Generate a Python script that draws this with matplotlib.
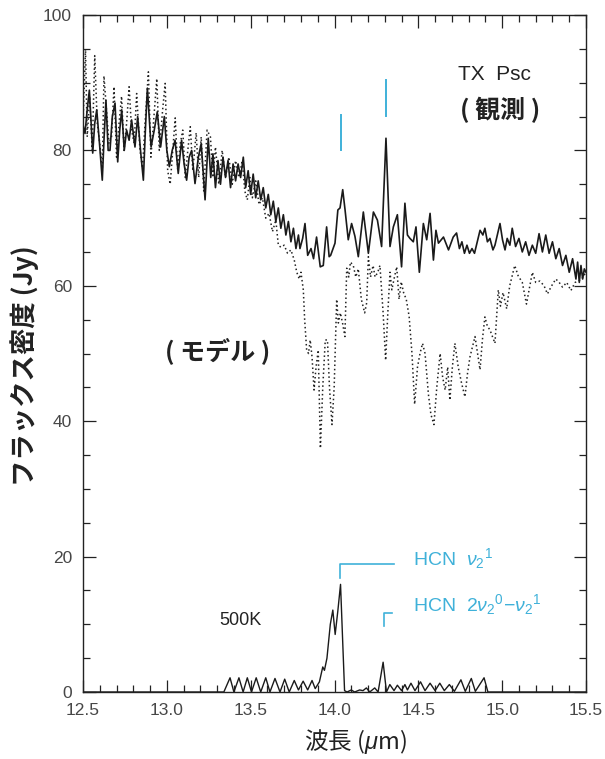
import matplotlib
matplotlib.use("Agg")
import matplotlib.pyplot as plt
from matplotlib.ticker import MultipleLocator

plt.rcParams['font.family'] = ['Liberation Sans', 'Noto Sans CJK JP', 'DejaVu Sans']
plt.rcParams['mathtext.fontset'] = 'custom'
plt.rcParams['mathtext.rm'] = 'Liberation Sans'
plt.rcParams['mathtext.it'] = 'Liberation Sans:italic'

# ---- data ----
wl_obs = [12.498, 12.512, 12.525, 12.538, 12.558, 12.570, 12.582, 12.600, 12.615, 12.626,
          12.637, 12.650, 12.661, 12.675, 12.691, 12.707, 12.719, 12.731, 12.746, 12.760,
          12.775, 12.790, 12.810, 12.826, 12.843, 12.860, 12.872, 12.884, 12.906, 12.925,
          12.943, 12.963, 12.985, 13.000, 13.015, 13.032, 13.049, 13.068, 13.088, 13.103,
          13.118, 13.133, 13.148, 13.168, 13.188, 13.205, 13.228, 13.247, 13.262, 13.275,
          13.290, 13.305, 13.320, 13.335, 13.350, 13.365, 13.380, 13.395, 13.410, 13.425,
          13.440, 13.456, 13.470, 13.485, 13.500, 13.515, 13.530, 13.545, 13.560, 13.575,
          13.590, 13.605, 13.620, 13.635, 13.650, 13.665, 13.680, 13.695, 13.710, 13.725,
          13.740, 13.755, 13.770, 13.785, 13.794, 13.810, 13.824, 13.840, 13.860, 13.875,
          13.893, 13.915, 13.933, 13.953, 13.968, 13.977, 14.003, 14.020, 14.033, 14.049,
          14.063, 14.082, 14.102, 14.122, 14.142, 14.172, 14.202, 14.232, 14.256, 14.281,
          14.307, 14.331, 14.351, 14.375, 14.400, 14.420, 14.435, 14.450, 14.470, 14.486,
          14.506, 14.530, 14.550, 14.570, 14.590, 14.605, 14.620, 14.650, 14.680, 14.708,
          14.728, 14.745, 14.760, 14.775, 14.790, 14.805, 14.820, 14.835, 14.868, 14.885,
          14.897, 14.912, 14.927, 14.945, 14.957, 14.987, 15.002, 15.017, 15.030, 15.046,
          15.060, 15.080, 15.100, 15.120, 15.140, 15.160, 15.180, 15.200, 15.220, 15.240,
          15.260, 15.280, 15.300, 15.320, 15.340, 15.360, 15.380, 15.400, 15.420, 15.440,
          15.450, 15.460, 15.470, 15.480, 15.490, 15.500]
flux_obs = [84.0, 82.5, 86.0, 88.9, 79.6, 84.0, 86.0, 80.5, 75.6, 82.0,
            87.4, 80.0, 80.0, 85.0, 87.0, 78.3, 83.0, 86.0, 80.0, 83.0,
            81.5, 84.5, 80.5, 85.0, 80.0, 75.6, 83.0, 89.2, 80.5, 83.0,
            85.7, 80.5, 85.0, 80.0, 77.6, 80.0, 81.5, 76.6, 81.5, 78.0,
            75.6, 79.0, 80.0, 75.1, 79.0, 81.0, 72.7, 81.8, 76.0, 79.5,
            74.5, 78.5, 75.0, 79.0, 76.0, 78.5, 74.5, 78.0, 75.5, 78.0,
            76.0, 79.0, 74.5, 77.0, 73.5, 76.5, 73.0, 75.5, 72.7, 74.5,
            71.5, 73.5, 70.5, 72.5, 69.5, 71.5, 68.5, 70.5, 67.5, 69.5,
            66.5, 68.5, 65.5, 67.5, 65.5, 67.0, 69.2, 64.5, 65.5, 64.0,
            67.2, 62.8, 63.0, 68.7, 64.3, 64.5, 66.3, 71.2, 71.5, 74.2,
            71.2, 66.8, 69.2, 67.3, 64.3, 70.9, 64.8, 70.9, 69.7, 65.8,
            81.8, 65.8, 68.7, 70.5, 62.8, 72.2, 67.5, 67.0, 66.5, 68.7,
            62.0, 69.2, 66.8, 70.7, 63.8, 68.2, 66.3, 67.2, 65.3, 67.2,
            67.8, 65.5, 66.5, 64.8, 66.0, 64.8, 65.5, 64.8, 68.2, 67.5,
            68.5, 66.5, 67.0, 65.3, 66.0, 69.2, 66.8, 65.3, 67.0, 66.0,
            68.5, 65.8, 67.0, 65.0, 66.5, 64.5, 66.0, 64.8, 67.7, 65.0,
            67.5, 64.8, 66.5, 64.0, 65.5, 63.0, 64.5, 62.0, 64.0, 61.0,
            63.5, 60.5, 63.0, 61.0, 62.5, 62.0]

wl_model = [12.500, 12.515, 12.525, 12.540, 12.555, 12.570, 12.585, 12.600, 12.615, 12.625,
            12.640, 12.655, 12.670, 12.685, 12.700, 12.715, 12.730, 12.745, 12.760, 12.775,
            12.790, 12.805, 12.820, 12.840, 12.855, 12.870, 12.890, 12.905, 12.920, 12.940,
            12.955, 12.975, 12.990, 13.005, 13.020, 13.035, 13.050, 13.065, 13.080, 13.095,
            13.110, 13.125, 13.140, 13.155, 13.175, 13.190, 13.205, 13.220, 13.240, 13.260,
            13.275, 13.290, 13.310, 13.330, 13.350, 13.370, 13.390, 13.410, 13.430, 13.450,
            13.465, 13.480, 13.495, 13.510, 13.530, 13.550, 13.570, 13.590, 13.610, 13.630,
            13.650, 13.665, 13.680, 13.700, 13.720, 13.740, 13.760, 13.775, 13.790, 13.800,
            13.814, 13.822, 13.834, 13.845, 13.855, 13.866, 13.878, 13.890, 13.903, 13.916,
            13.930, 13.945, 13.958, 13.970, 13.985, 13.998, 14.013, 14.023, 14.035, 14.048,
            14.062, 14.073, 14.085, 14.095, 14.112, 14.127, 14.142, 14.160, 14.180, 14.192,
            14.202, 14.215, 14.230, 14.242, 14.258, 14.271, 14.290, 14.305, 14.318, 14.331,
            14.342, 14.355, 14.371, 14.385, 14.398, 14.412, 14.428, 14.445, 14.462, 14.478,
            14.495, 14.510, 14.525, 14.540, 14.560, 14.575, 14.593, 14.610, 14.630, 14.645,
            14.660, 14.675, 14.688, 14.703, 14.718, 14.738, 14.758, 14.778, 14.793, 14.808,
            14.823, 14.838, 14.853, 14.868, 14.882, 14.897, 14.912, 14.927, 14.942, 14.957,
            14.977, 14.990, 15.005, 15.027, 15.045, 15.075, 15.095, 15.120, 15.145, 15.165,
            15.180, 15.200, 15.225, 15.250, 15.270, 15.295, 15.320, 15.340, 15.360, 15.385,
            15.410, 15.435, 15.455, 15.475, 15.490, 15.500]
flux_model = [84.0, 95.0, 82.0, 88.0, 80.0, 94.0, 84.0, 81.0, 77.0, 91.0,
              86.0, 81.0, 82.0, 89.4, 79.0, 84.0, 88.0, 80.0, 84.0, 89.4,
              83.0, 81.0, 88.4, 80.0, 77.4, 84.0, 91.6, 79.0, 84.0, 90.6,
              80.0, 86.0, 89.9, 77.0, 75.0, 80.0, 84.8, 77.0, 81.0, 83.0,
              76.0, 80.0, 83.5, 77.0, 82.6, 76.0, 82.0, 74.0, 83.0, 82.0,
              76.0, 80.5, 75.0, 80.0, 76.0, 79.0, 75.0, 78.5, 76.0, 78.5,
              74.0, 72.7, 76.0, 73.0, 75.5, 72.0, 73.0, 70.0, 70.7, 68.0,
              69.7, 66.0, 65.7, 66.0, 64.8, 65.3, 63.8, 62.0, 61.0, 62.0,
              59.4, 55.0, 50.5, 50.0, 52.0, 49.5, 44.6, 48.0, 50.5, 36.0,
              45.0, 52.0, 52.0, 45.0, 39.5, 45.0, 58.0, 54.5, 56.0, 54.5,
              52.5, 62.6, 61.3, 63.5, 63.0, 61.3, 62.5, 58.0, 56.0, 57.5,
              64.3, 61.3, 63.0, 61.3, 62.0, 63.0, 56.0, 49.0, 56.0, 62.0,
              59.4, 61.0, 62.8, 58.0, 60.6, 59.0, 58.0, 55.5, 50.0, 42.5,
              48.0, 50.0, 51.5, 50.0, 44.0, 41.0, 39.5, 45.0, 50.0, 46.5,
              44.6, 48.0, 43.1, 48.0, 51.5, 48.0, 45.6, 43.6, 47.0, 49.5,
              51.0, 52.5, 50.0, 47.6, 52.0, 55.4, 54.0, 53.5, 52.5, 51.5,
              59.4, 57.0, 59.0, 56.6, 60.0, 63.0, 61.5, 60.5, 57.3, 60.0,
              62.0, 60.5, 60.7, 60.0, 58.8, 60.0, 61.0, 60.5, 59.8, 60.5,
              59.3, 60.5, 60.7, 61.0, 61.7, 61.5]

wl_500k = [12.500, 13.340, 13.377, 13.400, 13.430, 13.455, 13.480, 13.505, 13.533, 13.560,
           13.590, 13.615, 13.645, 13.675, 13.703, 13.730, 13.760, 13.785, 13.813, 13.840,
           13.866, 13.885, 13.910, 13.930, 13.940, 13.955, 13.975, 13.990, 14.004, 14.020,
           14.036, 14.048, 14.060, 14.075, 14.100, 14.120, 14.150, 14.170, 14.190, 14.210,
           14.240, 14.260, 14.290, 14.310, 14.330, 14.355, 14.375, 14.400, 14.420, 14.435,
           14.456, 14.480, 14.513, 14.540, 14.570, 14.600, 14.628, 14.655, 14.685, 14.715,
           14.754, 14.780, 14.816, 14.840, 14.892, 14.915, 15.500]
flux_500k = [0.0, 0.0, 2.1, 0.0, 2.1, 0.0, 2.1, 0.0, 2.1, 0.0,
             2.1, 0.0, 2.0, 0.0, 1.9, 0.0, 1.7, 0.3, 1.6, 0.3,
             1.7, 0.5, 1.5, 3.7, 3.2, 5.0, 10.0, 12.1, 8.5, 12.0,
             15.9, 8.0, 0.2, 0.0, 0.3, 0.0, 0.3, 0.2, 0.6, 0.0,
             0.6, 0.0, 4.4, 0.0, 1.1, 0.2, 1.0, 0.2, 1.1, 0.3,
             1.3, 0.2, 1.5, 0.2, 1.3, 0.2, 1.3, 0.2, 1.1, 0.1,
             1.8, 0.1, 2.0, 0.1, 2.1, 0.0, 0.0]

x_ticks = [12.5, 13.0, 13.5, 14.0, 14.5, 15.0, 15.5]
y_ticks = [0, 20, 40, 60, 80, 100]

BLUE = '#3fb1d9'
GREY = '#474747'

fig = plt.figure(figsize=(6.05, 7.59), dpi=100)
ax = fig.add_axes([83/605, 67/759, 503/605, 677/759])

ax.plot(wl_model, flux_model, color='#222222', lw=1.1, linestyle=(0, (1, 1.8)))
ax.plot(wl_obs, flux_obs, color='#1a1a1a', lw=1.2)
ax.plot(wl_500k, flux_500k, color='#1a1a1a', lw=1.0)

ax.set_xlim(12.5, 15.5)
ax.set_ylim(0, 100)
ax.set_xticks(x_ticks)
ax.set_xticklabels([f"{v:.1f}" for v in x_ticks])
ax.set_yticks(y_ticks)
ax.xaxis.set_minor_locator(MultipleLocator(0.1))
ax.yaxis.set_minor_locator(MultipleLocator(5))
ax.tick_params(which='both', direction='in', top=True, right=True, colors='#222222',
               labelcolor=GREY, labelsize=12.5, width=0.9)
ax.tick_params(which='major', length=9, pad=8)
ax.tick_params(which='minor', length=5)
for s in ax.spines.values():
    s.set_color('#222222')
    s.set_linewidth(1.0)

# blue markers
ax.plot([14.036, 14.036], [80.1, 85.25], color=BLUE, lw=1.4)
ax.plot([14.306, 14.306], [85.15, 90.35], color=BLUE, lw=1.4)
ax.plot([14.031, 14.031, 14.352], [16.8, 18.9, 18.9], color=BLUE, lw=1.2)
ax.plot([14.295, 14.295, 14.34], [9.8, 11.7, 11.7], color=BLUE, lw=1.2)

# annotations
ax.text(14.955, 91.2, "TX  Psc", fontsize=15, color='#222222', ha='center', va='center')
ax.text(14.99, 86.0, "( 観測 )", fontsize=18, fontweight='bold', color='#222222',
        ha='center', va='center', family=['Noto Sans CJK JP', 'DejaVu Sans'])
ax.text(13.30, 50.4, "( モデル )", fontsize=18, fontweight='bold', color='#222222',
        ha='center', va='center', family=['Noto Sans CJK JP', 'DejaVu Sans'])
ax.text(13.44, 10.6, "500K", fontsize=13, color='#222222', ha='center', va='center')
ax.text(14.468, 18.8, r"HCN  $\nu_2{}^1$", fontsize=14, color=BLUE, ha='left', va='baseline')
ax.text(14.468, 11.9, r"HCN  $2\nu_2{}^0{-}\nu_2{}^1$", fontsize=14, color=BLUE,
        ha='left', va='baseline')

fig.text(25/605, 1 - 366/759, "フラックス密度 (Jy)", rotation=90, fontsize=19,
         fontweight='bold', color='#222222', ha='center', va='center',
         family=['Noto Sans CJK JP', 'DejaVu Sans'])
fig.text(356/605, 1 - 741/759, r"波長 ($\mu$m)", fontsize=17, color='#222222',
         ha='center', va='center', family=['Noto Sans CJK JP'])

fig.savefig("out.png", dpi=100, facecolor='white')
